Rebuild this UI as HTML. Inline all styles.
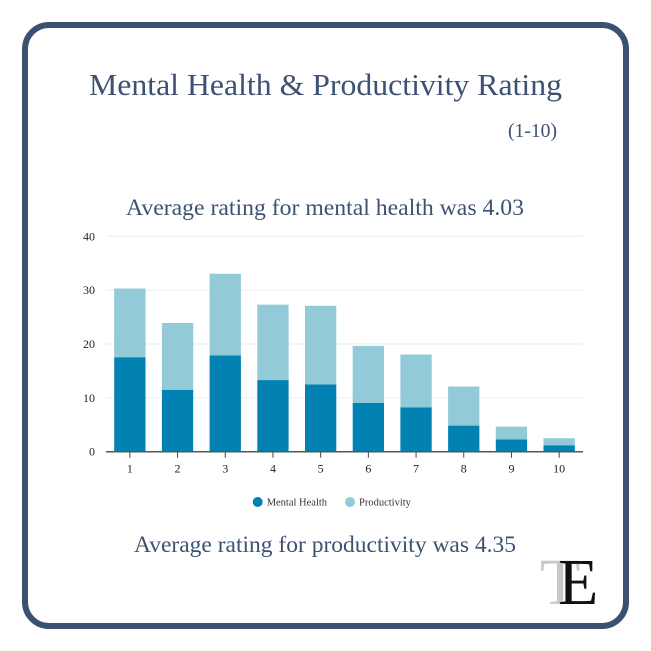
<!DOCTYPE html>
<html><head><meta charset="utf-8"><style>
html,body{margin:0;padding:0;background:#fff;}
svg{display:block;font-family:"Liberation Serif",serif;}
</style></head><body>
<svg width="651" height="651" viewBox="0 0 651 651">
<rect x="25" y="25" width="601" height="601" rx="24" fill="#fff" stroke="#3a5172" stroke-width="6"/>
<text x="89" y="95" font-size="31" fill="#3d5272" textLength="473" lengthAdjust="spacingAndGlyphs">Mental Health &amp; Productivity Rating</text>
<text x="508" y="137" font-size="20" fill="#3d5272" textLength="49" lengthAdjust="spacingAndGlyphs">(1-10)</text>
<text x="126" y="215" font-size="23" fill="#3d5272" textLength="398" lengthAdjust="spacingAndGlyphs">Average rating for mental health was 4.03</text>
<text x="134" y="552" font-size="23" fill="#3d5272" textLength="382" lengthAdjust="spacingAndGlyphs">Average rating for productivity was 4.35</text>
<g id="chart"></g>
<g>
<text x="540" y="604" font-size="66" fill="#c8c8c8">T</text>
<text x="558" y="604" font-size="66" fill="#111">E</text>
</g>
</svg>
<script>
const categories=["1","2","3","4","5","6","7","8","9","10"];
const mentalHealth=[17.55,11.5,17.9,13.3,12.5,9.05,8.25,4.85,2.3,1.2];
const productivity=[12.75,12.4,15.15,14.0,14.6,10.6,9.8,7.25,2.35,1.3];
const yTicks=[0,10,20,30,40];
const seriesNames=["Mental Health","Productivity"];
const NS="http://www.w3.org/2000/svg";
const g=document.getElementById('chart');
const x0=106,x1=583,yBase=451.7,yTop=236.3,yMax=40;
const band=(x1-x0)/categories.length,barW=31.3;
const y=v=>yBase-(v/yMax)*(yBase-yTop);
const xc=i=>x0+band*(i+0.5);
function mk(t,a){const e=document.createElementNS(NS,t);for(const k in a)e.setAttribute(k,a[k]);g.appendChild(e);return e;}
yTicks.forEach(t=>{
  if(t>0){const l=mk('line',{x1:x0,x2:x1,y1:y(t),y2:y(t),stroke:'#ebebeb','stroke-width':1});
  
  }
  const tx=mk('text',{x:95,y:y(t)+4,'font-size':12,fill:'#222','text-anchor':'end'});
  tx.textContent=t;
  
  
});
categories.forEach((c,i)=>{
  const m=mentalHealth[i],p=productivity[i];
  const r1=mk('rect',{x:xc(i)-barW/2,y:y(m),width:barW,height:yBase-y(m),fill:'#0281b3'});
  
  
  const r2=mk('rect',{x:xc(i)-barW/2,y:y(m+p),width:barW,height:y(m)-y(m+p),fill:'#92cad8'});
  
  
  const tk=mk('line',{x1:xc(i),x2:xc(i),y1:yBase,y2:yBase+6,stroke:'#444','stroke-width':1});
  
  
  const tl=mk('text',{x:xc(i),y:yBase+21,'font-size':12,fill:'#222','text-anchor':'middle'});
  tl.textContent=c;
  
  
});
const ax=mk('line',{x1:x0,x2:x1,y1:yBase,y2:yBase,stroke:'#555','stroke-width':1.5});


const legX=[257.7,350],cols=['#0281b3','#92cad8'];
seriesNames.forEach((n,i)=>{
  const d=mk('circle',{cx:legX[i],cy:502,r:5,fill:cols[i]});
  
  
  const t=mk('text',{x:legX[i]+9,y:505.5,'font-size':10.5,fill:'#333'});
  t.textContent=n;
  
  
});
</script>
</body></html>
